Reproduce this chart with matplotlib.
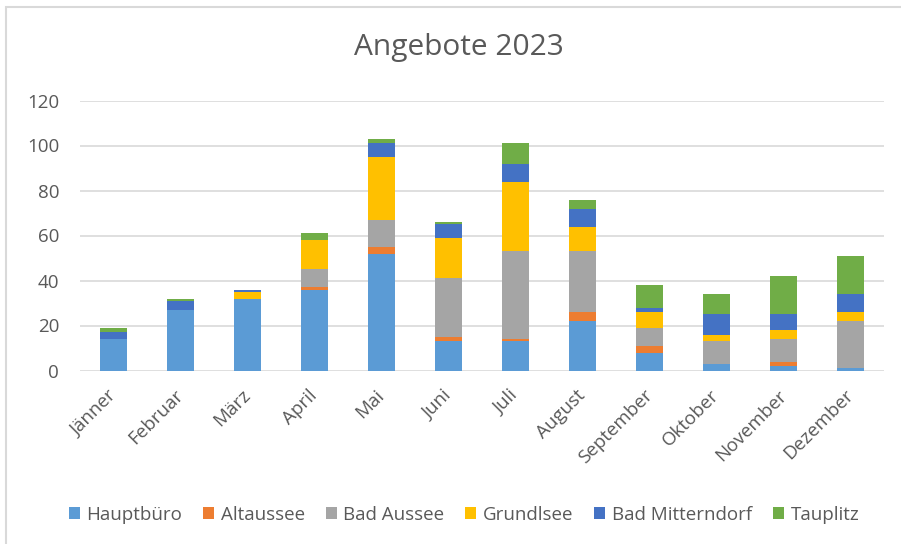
import matplotlib
matplotlib.use("Agg")
import matplotlib.pyplot as plt
from matplotlib.patches import Patch, Rectangle
import numpy as np

plt.rcParams['font.family'] = ['Open Sans', 'DejaVu Sans']

months = ['Jänner', 'Februar', 'März', 'April', 'Mai', 'Juni', 'Juli',
          'August', 'September', 'Oktober', 'November', 'Dezember']

hauptbuero = [14, 27, 32, 36, 52, 13, 13, 22, 8, 3, 2, 1]
altaussee = [0, 0, 0, 1, 3, 2, 1, 4, 3, 0, 2, 0]
bad_aussee = [0, 0, 0, 8, 12, 26, 39, 27, 8, 10, 10, 21]
grundlsee = [0, 0, 3, 13, 28, 18, 31, 11, 7, 3, 4, 4]
bad_mitterndorf = [3, 4, 1, 0, 6, 6, 8, 8, 2, 9, 7, 8]
tauplitz = [2, 1, 0, 3, 2, 1, 9, 4, 10, 9, 17, 17]

series = [
    ('Hauptbüro', hauptbuero, '#5B9BD5'),
    ('Altaussee', altaussee, '#ED7D31'),
    ('Bad Aussee', bad_aussee, '#A5A5A5'),
    ('Grundlsee', grundlsee, '#FFC000'),
    ('Bad Mitterndorf', bad_mitterndorf, '#4472C4'),
    ('Tauplitz', tauplitz, '#70AD47'),
]

text_color = '#595959'
grid_color = '#D9D9D9'

fig = plt.figure(figsize=(9.01, 5.44), dpi=100)
ax = fig.add_axes([80 / 901, 1 - 370.5 / 544, 804 / 901, 270 / 544])

x = np.arange(len(months))
bottom = np.zeros(len(months))
handles = []
for name, vals, color in series:
    vals = np.array(vals, dtype=float)
    ax.bar(x, vals, width=0.4, bottom=bottom, color=color, zorder=3)
    bottom += vals
    handles.append(Patch(facecolor=color, label=name))

ax.set_xlim(-0.5, len(months) - 0.5)
ax.set_ylim(0, 120)
ax.set_yticks(range(0, 121, 20))
ax.yaxis.grid(True, color=grid_color, linewidth=1.2, zorder=0)
for s in ax.spines.values():
    s.set_visible(False)
ax.tick_params(axis='both', length=0, colors=text_color, labelsize=13.5)
ax.tick_params(axis='y', pad=15)
ax.tick_params(axis='x', pad=16)
ax.set_xticks(x)
ax.set_xticklabels(months, rotation=45, ha='right', va='center',
                   rotation_mode='anchor')

fig.text(459 / 901, 1 - 48 / 544, 'Angebote 2023', ha='center', va='center',
         fontsize=21.5, color=text_color)

leg = fig.legend(handles=handles, loc='center', bbox_to_anchor=(464 / 901, 1 - 515 / 544),
                 ncol=6, frameon=False, fontsize=13.5, handlelength=0.6,
                 handleheight=0.6, handletextpad=0.35, columnspacing=1.1)
for t in leg.get_texts():
    t.set_color(text_color)

fig.patches.append(Rectangle((6 / 901, -0.1), 1.1, 1 - 7 / 544 + 0.1,
                             transform=fig.transFigure, fill=False,
                             edgecolor=grid_color, linewidth=1.5))

fig.savefig('out.png', dpi=100)
